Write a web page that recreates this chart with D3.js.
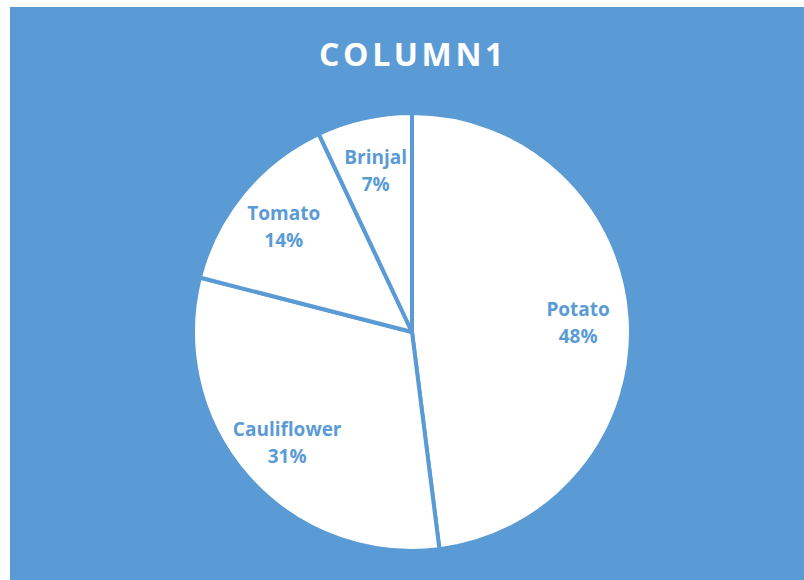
<!DOCTYPE html>
<html><head><meta charset="utf-8">
<script src="https://cdn.jsdelivr.net/npm/d3@7"></script>
<style>html,body{margin:0;padding:0;background:#fff;}</style>
</head><body>
<svg id="chart" width="804" height="580"></svg>
<script>
const title = "COLUMN1";
const categories = ["Potato", "Cauliflower", "Tomato", "Brinjal"];
const values = [48, 31, 14, 7];

const W = 804, H = 580;
const bg = "#5B9BD5";
const svg = d3.select("#chart");
svg.append("rect").attr("x", 10).attr("y", 7).attr("width", W - 10).attr("height", H - 7).attr("fill", bg);

svg.append("text").attr("x", 413).attr("y", 66).attr("text-anchor", "middle")
  .attr("fill", "#fff").attr("font-family", "'Open Sans', sans-serif")
  .attr("font-weight", "bold").attr("font-size", 32).attr("letter-spacing", 3.6)
  .text(title);

const cx = 412, cy = 332, r = 219;
const data = categories.map((c, i) => ({ cat: c, val: values[i] }));
const total = d3.sum(values);
const pie = d3.pie().value(d => d.val).sort(null);
const arc = d3.arc().innerRadius(0).outerRadius(r);
const g = svg.append("g").attr("transform", `translate(${cx},${cy})`);
const arcs = pie(data);
g.selectAll("path").data(arcs).join("path")
  .attr("d", arc).attr("fill", "#fff").attr("stroke", bg).attr("stroke-width", 4)
  .attr("stroke-linejoin", "round");

const labelArc = d3.arc().innerRadius(r * 0.76).outerRadius(r * 0.76);
const lab = g.selectAll("g.lab").data(arcs).join("g").attr("class", "lab")
  .attr("transform", d => { const [x, y] = labelArc.centroid(d); return `translate(${x},${y})`; });
lab.append("text").attr("text-anchor", "middle").attr("y", -6)
  .attr("fill", bg).attr("font-family", "'Open Sans', sans-serif")
  .attr("font-weight", "bold").attr("font-size", 19)
  .text(d => d.data.cat);
lab.append("text").attr("text-anchor", "middle").attr("y", 21)
  .attr("fill", bg).attr("font-family", "'Open Sans', sans-serif")
  .attr("font-weight", "bold").attr("font-size", 19)
  .text(d => Math.round(d.data.val / total * 100) + "%");
</script>
</body></html>
